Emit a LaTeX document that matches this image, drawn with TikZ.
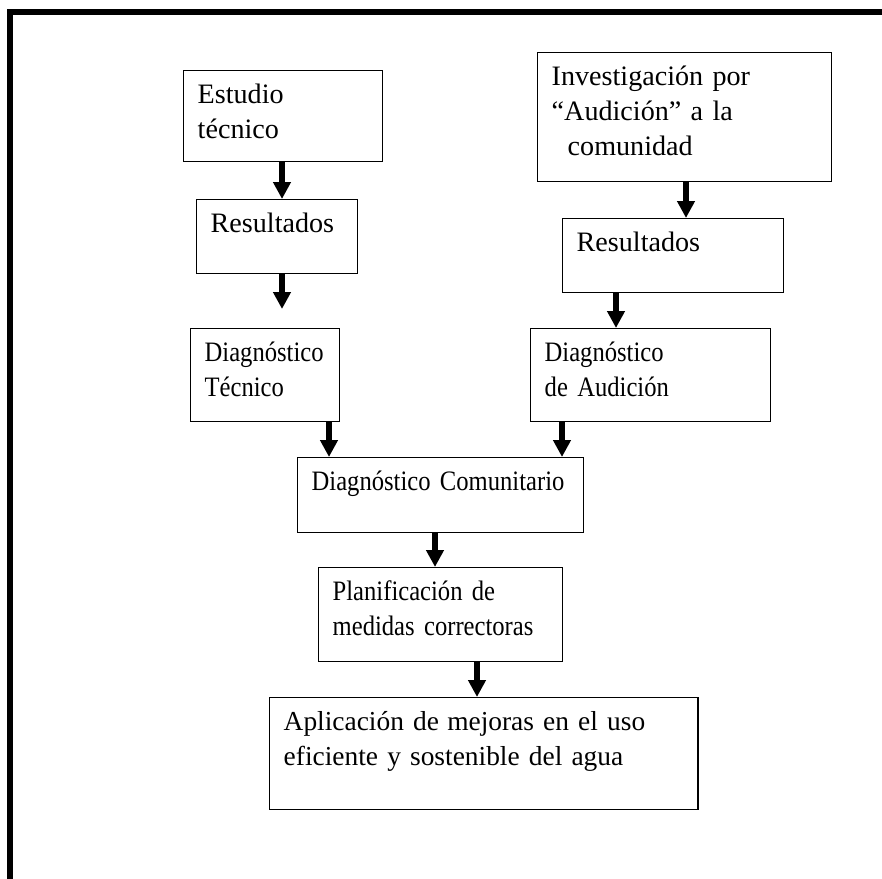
\documentclass[tikz,border=0pt]{standalone}
\usepackage{fontspec}
\setmainfont{Liberation Serif}
\newfontfamily\estrecha[FakeStretch=0.875]{Liberation Serif}
\usetikzlibrary{arrows.meta}
\usetikzlibrary{positioning}

\begin{document}
\begin{tikzpicture}
      [
      x=0.025cm, y=-0.025cm,
      caja/.style={draw,line width=1pt,rectangle,anchor=north west,align=left,
        inner xsep=0.35cm,inner ysep=0.4cm,text height=12pt,
        font=\fontsize{20}{24.9}\selectfont},
      estrecho/.style={font=\estrecha\fontsize{20}{24.9}\selectfont},
      flecha/.style={line width=3.6pt,-{Triangle[width=0.42cm,length=0.42cm]}}
      ]
      \useasboundingbox (0,0) rectangle (882,879);
      \draw [line width=4.3pt] (882,12) -- (10,12) -- (10,879);
      % rama tecnica
      \node (est) at (183,70) [caja,minimum width=4.975cm,minimum height=2.275cm,text width=4.275cm,text depth=1.053cm] {Estudio\\técnico};
      \node (resT) at (196,199) [caja,minimum width=4.025cm,minimum height=1.85cm,text width=3.325cm,text depth=0.628cm] {Resultados};
      \node (diagT) at (190,328) [caja,estrecho,minimum width=3.725cm,minimum height=2.325cm,text width=3.025cm,text depth=1.103cm] {Diagnóstico\\Técnico};
      % rama audicion
      \node (inv) at (537,52) [caja,minimum width=7.35cm,minimum height=3.225cm,text width=6.65cm,text depth=2.003cm] {Investigación por\\“Audición” a la\\\hspace*{0.4cm}comunidad};
      \node (resA) at (562,218) [caja,minimum width=5.525cm,minimum height=1.85cm,text width=4.825cm,text depth=0.628cm] {Resultados};
      \node (diagA) at (530,328) [caja,estrecho,minimum width=6cm,minimum height=2.325cm,text width=5.3cm,text depth=1.103cm] {Diagnóstico\\de Audición};
      % tronco comun
      \node (diagC) at (297,457) [caja,estrecho,minimum width=7.15cm,minimum height=1.875cm,text width=6.45cm,text depth=0.653cm] {Diagnóstico Comunitario};
      \node (plan) at (318,567) [caja,estrecho,minimum width=6.1cm,minimum height=2.35cm,text width=5.4cm,text depth=1.128cm] {Planificación de\\medidas correctoras};
      \node (apl) at (269,697) [caja,font=\fontsize{19.5}{24.9}\selectfont,minimum width=10.7cm,minimum height=2.8cm,text width=10cm,text depth=1.578cm] {Aplicación de\hspace{0.3em}mejoras en el uso\\eficiente y sostenible del agua};
      \draw [flecha] (est.south -| 282,0) to (resT.north -| 282,0);
      \draw [flecha, shorten >=0.475cm] (resT.south -| 282,0) to (diagT.north -| 282,0);
      \draw [flecha] (inv.south -| 686,0) to (resA.north -| 686,0);
      \draw [flecha] (resA.south -| 616,0) to (diagA.north -| 616,0);
      \draw [flecha] (diagT.south -| 329,0) to (diagC.north -| 329,0);
      \draw [flecha] (diagA.south -| 562,0) to (diagC.north -| 562,0);
      \draw [flecha] (diagC.south -| 435,0) to (plan.north -| 435,0);
      \draw [flecha] (plan.south -| 477,0) to (apl.north -| 477,0);
    \end{tikzpicture}
\end{document}
